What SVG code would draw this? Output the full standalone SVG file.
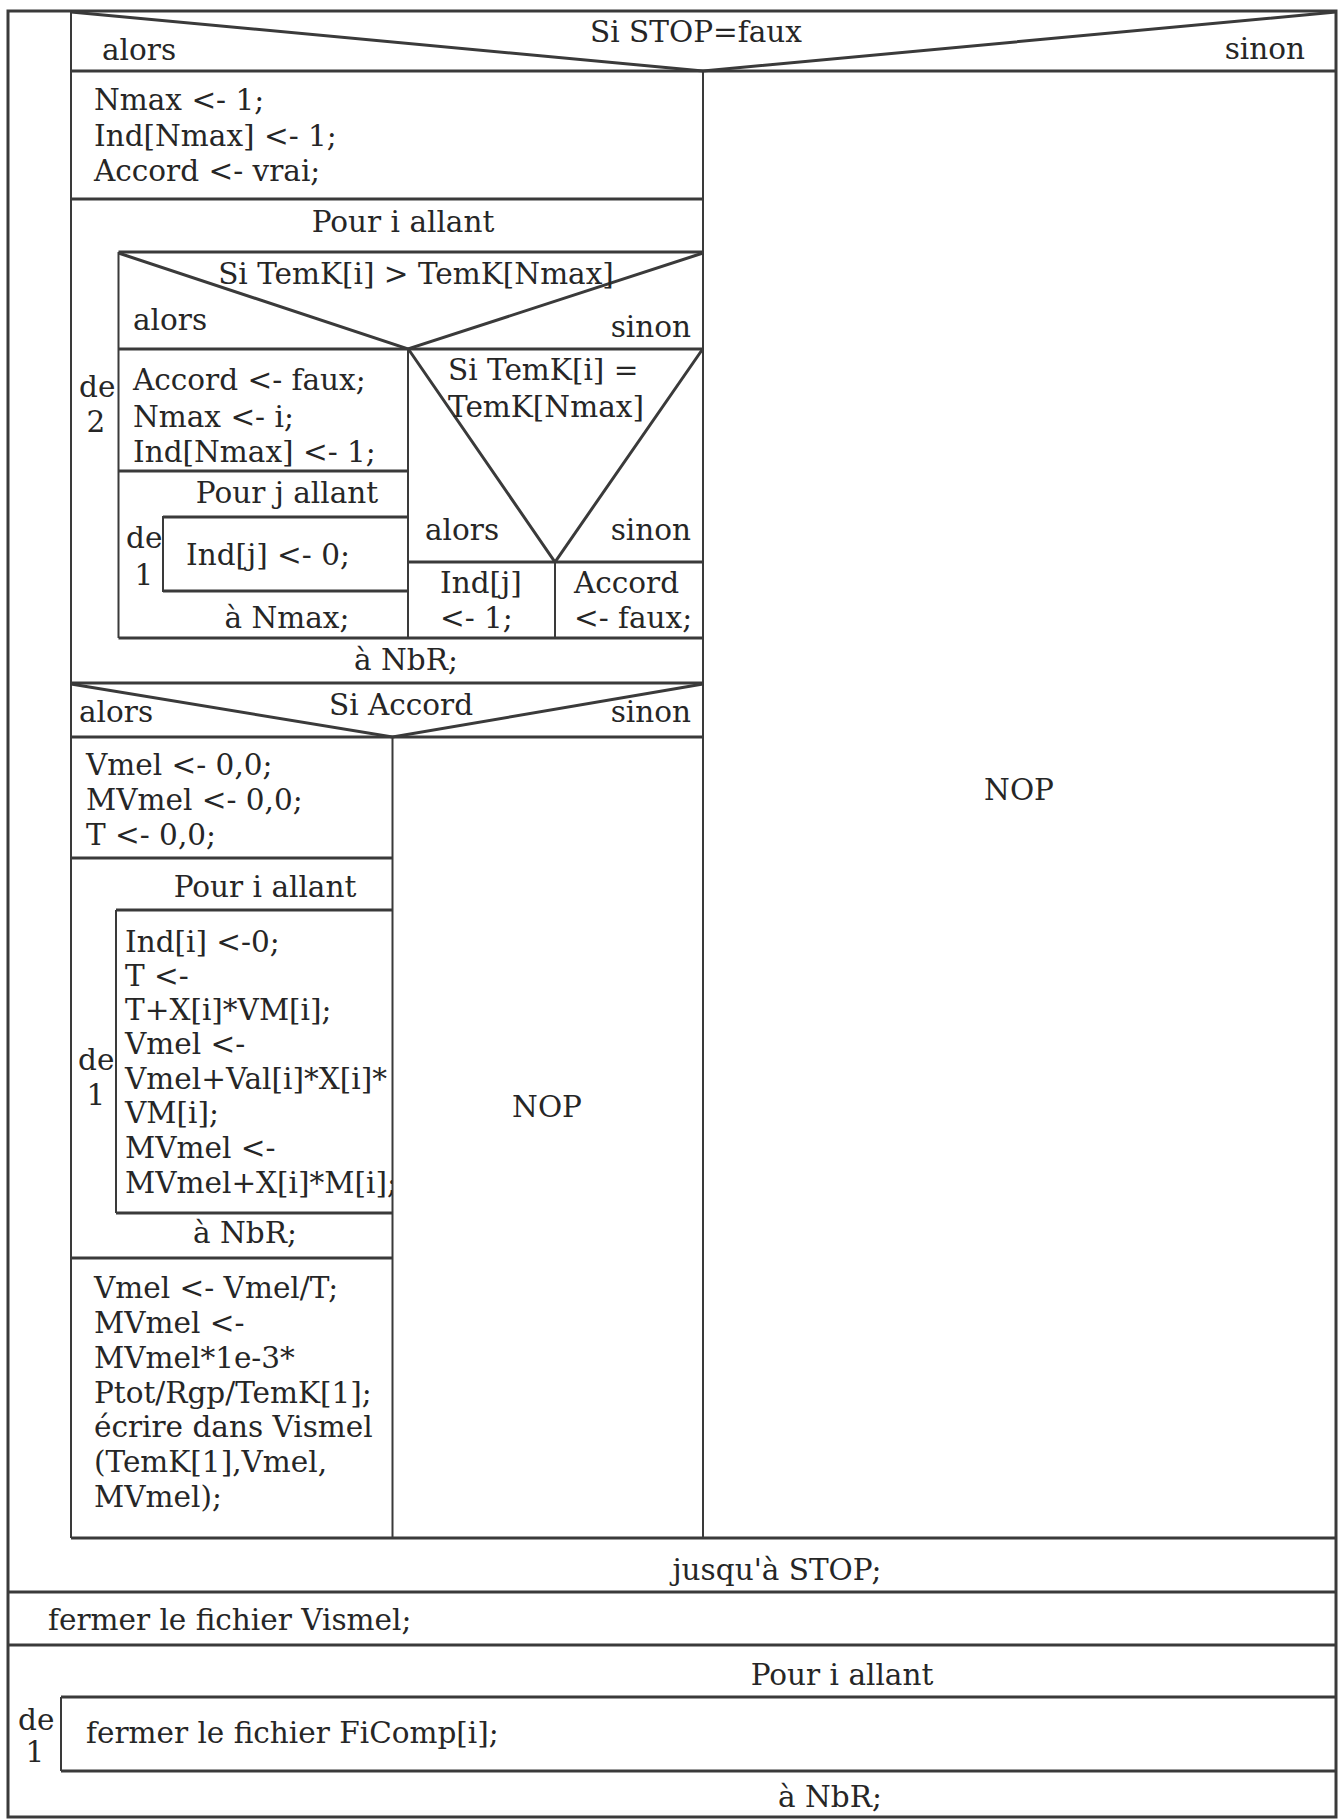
<svg xmlns="http://www.w3.org/2000/svg" width="1339" height="1819" viewBox="0 0 1339 1819">
<defs>
<style>
text{font-family:"DejaVu Serif","Liberation Serif",serif;font-size:29.5px;fill:#262626}
.c{text-anchor:middle}
.r{text-anchor:end}
.ln{stroke:#3a3a3a;stroke-width:3;fill:none}
.th{stroke:#3a3a3a;stroke-width:2;fill:none}
</style>
<clipPath id="clipLoop2"><rect x="117" y="911" width="275" height="301"/></clipPath>
</defs>
<rect x="0" y="0" width="1339" height="1819" fill="#fff"/>

<g id="frame">
<rect class="ln" x="8" y="11" width="1328" height="1806"/>
</g>

<g id="repeat">
<line class="th" x1="71" y1="11" x2="71" y2="1538"/>
<line class="ln" x1="71" y1="1538" x2="1336" y2="1538"/>
<text class="c" x="777" y="1580">jusqu'à STOP;</text>
<line class="ln" x1="8" y1="1592" x2="1336" y2="1592"/>
</g>

<g id="if-stop">
<polyline class="ln" points="71,12 703,71 1336,12"/>
<line class="ln" x1="71" y1="71" x2="1336" y2="71"/>
<line class="th" x1="703" y1="71" x2="703" y2="1538"/>
<text class="c" x="696" y="42">Si STOP=faux</text>
<text x="102" y="60">alors</text>
<text class="r" x="1305" y="59">sinon</text>
</g>

<g id="init">
<text x="94" y="110">Nmax &lt;- 1;</text>
<text x="94" y="146">Ind[Nmax] &lt;- 1;</text>
<text x="94" y="181">Accord &lt;- vrai;</text>
<line class="ln" x1="71" y1="199" x2="703" y2="199"/>
</g>

<g id="for-i-1">
<text class="c" x="403" y="232">Pour i allant</text>
<line class="ln" x1="118.5" y1="252" x2="703" y2="252"/>
<line class="th" x1="118.5" y1="252" x2="118.5" y2="638"/>
<line class="ln" x1="118.5" y1="638" x2="703" y2="638"/>
<text x="79" y="397">de</text>
<text class="c" x="96" y="432">2</text>
<text class="c" x="406" y="670">à NbR;</text>
<line class="ln" x1="71" y1="683" x2="703" y2="683"/>
</g>

<g id="if-greater">
<polyline class="ln" points="118.5,253 408,349 703,253"/>
<line class="ln" x1="118.5" y1="349" x2="703" y2="349"/>
<line class="th" x1="408" y1="349" x2="408" y2="638"/>
<text class="c" x="416" y="284">Si TemK[i] &gt; TemK[Nmax]</text>
<text x="133" y="330">alors</text>
<text class="r" x="691" y="337">sinon</text>
</g>

<g id="update-max">
<text x="133" y="390">Accord &lt;- faux;</text>
<text x="133" y="427">Nmax &lt;- i;</text>
<text x="133" y="462">Ind[Nmax] &lt;- 1;</text>
<line class="ln" x1="118.5" y1="471" x2="408" y2="471"/>
</g>

<g id="for-j">
<text class="c" x="287" y="503">Pour j allant</text>
<rect class="th" x="163" y="517" width="245" height="74"/>
<line class="ln" x1="163" y1="517" x2="408" y2="517"/>
<line class="ln" x1="163" y1="591" x2="408" y2="591"/>
<text x="186" y="565">Ind[j] &lt;- 0;</text>
<text x="126" y="548">de</text>
<text class="c" x="144" y="585">1</text>
<text class="c" x="287" y="628">à Nmax;</text>
</g>

<g id="if-equal">
<polyline class="ln" points="409,350 555,562 702,350"/>
<line class="ln" x1="408" y1="562" x2="703" y2="562"/>
<line class="th" x1="555" y1="562" x2="555" y2="638"/>
<text x="448" y="380">Si TemK[i] =</text>
<text x="448" y="417">TemK[Nmax]</text>
<text x="425" y="540">alors</text>
<text class="r" x="691" y="540">sinon</text>
<text x="440" y="593">Ind[j]</text>
<text x="440" y="628">&lt;- 1;</text>
<text x="574" y="593">Accord</text>
<text x="574" y="628">&lt;- faux;</text>
</g>

<g id="if-accord">
<polyline class="ln" points="71,684 392.5,737 703,684"/>
<line class="ln" x1="71" y1="737" x2="703" y2="737"/>
<line class="th" x1="392.5" y1="737" x2="392.5" y2="1538"/>
<text x="79" y="722">alors</text>
<text class="c" x="401" y="715">Si Accord</text>
<text class="r" x="691" y="722">sinon</text>
<text class="c" x="547" y="1117">NOP</text>
</g>

<g id="reset">
<text x="86" y="775">Vmel &lt;- 0,0;</text>
<text x="86" y="810">MVmel &lt;- 0,0;</text>
<text x="86" y="845">T &lt;- 0,0;</text>
<line class="ln" x1="71" y1="858" x2="392.5" y2="858"/>
</g>

<g id="for-i-2">
<text class="c" x="265" y="897">Pour i allant</text>
<line class="ln" x1="116" y1="910" x2="392.5" y2="910"/>
<line class="th" x1="116" y1="910" x2="116" y2="1213"/>
<line class="ln" x1="116" y1="1213" x2="392.5" y2="1213"/>
<text x="78" y="1070">de</text>
<text class="c" x="96" y="1105">1</text>
<g clip-path="url(#clipLoop2)">
<text x="125" y="952">Ind[i] &lt;-0;</text>
<text x="125" y="986">T &lt;-</text>
<text x="125" y="1020">T+X[i]*VM[i];</text>
<text x="125" y="1054">Vmel &lt;-</text>
<text x="125" y="1089">Vmel+Val[i]*X[i]*</text>
<text x="125" y="1123">VM[i];</text>
<text x="125" y="1158">MVmel &lt;-</text>
<text x="125" y="1193">MVmel+X[i]*M[i];</text>
</g>
<text class="c" x="245" y="1243">à NbR;</text>
<line class="ln" x1="71" y1="1258" x2="392.5" y2="1258"/>
</g>

<g id="write">
<text x="94" y="1298">Vmel &lt;- Vmel/T;</text>
<text x="94" y="1333">MVmel &lt;-</text>
<text x="94" y="1368">MVmel*1e-3*</text>
<text x="94" y="1403">Ptot/Rgp/TemK[1];</text>
<text x="94" y="1437">écrire dans Vismel</text>
<text x="94" y="1472">(TemK[1],Vmel,</text>
<text x="94" y="1507">MVmel);</text>
</g>

<g id="nop-stop">
<text class="c" x="1019" y="800">NOP</text>
</g>

<g id="close-vismel">
<text x="48" y="1630">fermer le fichier Vismel;</text>
<line class="ln" x1="8" y1="1645" x2="1336" y2="1645"/>
</g>

<g id="for-close">
<text class="c" x="842" y="1685">Pour i allant</text>
<line class="ln" x1="61" y1="1697" x2="1336" y2="1697"/>
<line class="th" x1="61" y1="1697" x2="61" y2="1771"/>
<line class="ln" x1="61" y1="1771" x2="1336" y2="1771"/>
<text x="18" y="1730">de</text>
<text class="c" x="35" y="1762">1</text>
<text x="86" y="1743">fermer le fichier FiComp[i];</text>
<text class="c" x="830" y="1807">à NbR;</text>
</g>
</svg>
